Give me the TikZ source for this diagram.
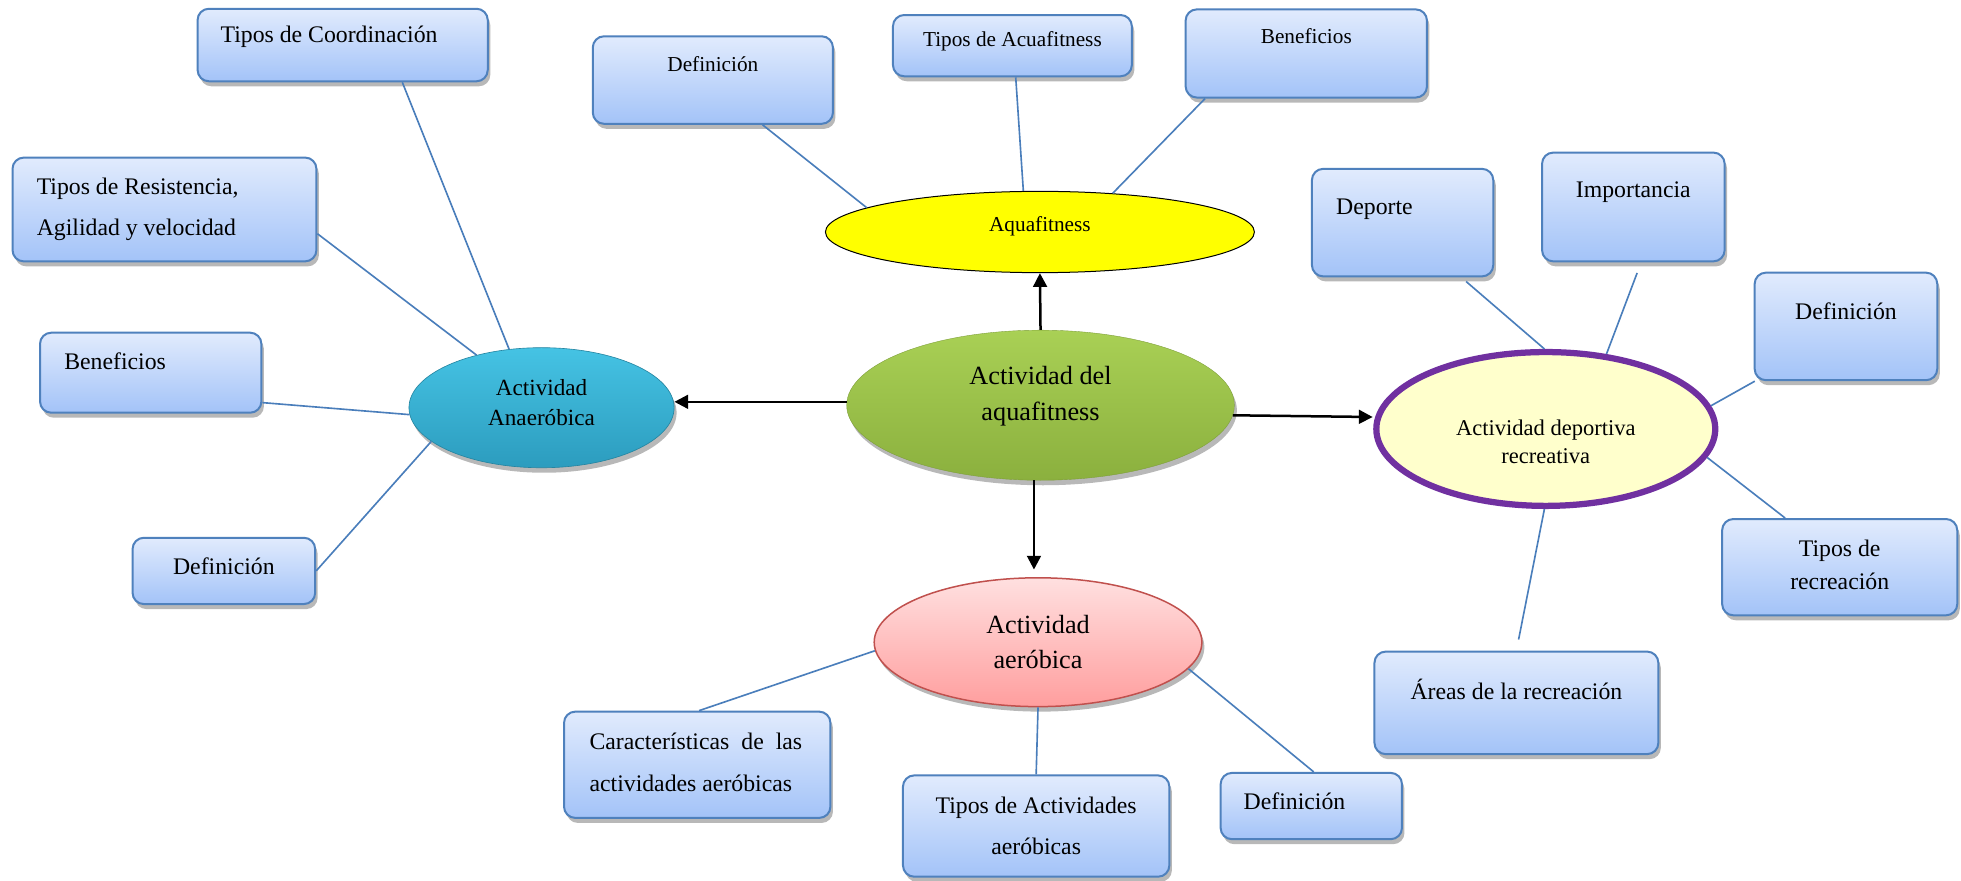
\documentclass[tikz,border=0pt]{standalone}
\usepackage{fontspec}
\setmainfont{Liberation Serif}
\usetikzlibrary{shapes.geometric,shadows,arrows.meta}
\definecolor{bxborder}{HTML}{4F81BD}
\definecolor{bxtop}{HTML}{E1EBFD}
\definecolor{bxbot}{HTML}{A3C3F8}
\definecolor{lnblue}{HTML}{4A7EBB}
\definecolor{anatop}{HTML}{45C3E4}
\definecolor{anabot}{HTML}{2C9CBE}
\definecolor{grtop}{HTML}{A9D055}
\definecolor{grbot}{HTML}{8BB03E}
\definecolor{redtop}{HTML}{FFE0E0}
\definecolor{redbot}{HTML}{FF9E9E}
\definecolor{redborder}{HTML}{C0504D}
\definecolor{purborder}{HTML}{7030A0}
\definecolor{purfill}{HTML}{FFFFCC}
\definecolor{aquafill}{HTML}{FFFF00}
\begin{document}
\begin{tikzpicture}[x=1pt,y=-1pt,
  shd/.style={drop shadow={shadow xshift=2pt,shadow yshift=-4pt,fill=black,opacity=0.28}},
  bx/.style={draw=bxborder,line width=1.6pt,rounded corners=9pt,top color=bxtop,bottom color=bxbot,inner sep=0pt,shd},
  ell/.style={ellipse,inner sep=0pt},
  ln/.style={draw=lnblue,line width=1.3pt},
  arr/.style={draw=black,line width=2pt,-{Triangle[length=11pt,width=11pt]}},
  t19/.style={font=\fontsize{19}{33}\selectfont,inner sep=0pt},
  t19b/.style={font=\fontsize{19}{26}\selectfont,inner sep=0pt},
  t17/.style={font=\fontsize{17}{20}\selectfont,inner sep=0pt},
  t18a/.style={font=\fontsize{18.5}{24}\selectfont,inner sep=0pt},
  t18p/.style={font=\fontsize{18}{22.5}\selectfont,inner sep=0pt},
  t21/.style={font=\fontsize{21}{29}\selectfont,inner sep=0pt},
  t21b/.style={font=\fontsize{21}{28}\selectfont,inner sep=0pt}]
\useasboundingbox (0,0) rectangle (1568,704);
\fill[white] (0,0) rectangle (1568,704);

% ellipses
\node[ell,shd,draw=anabot!85!black,line width=0.5pt,top color=anatop,bottom color=anabot,minimum width=212pt,minimum height=96pt,
  label={[t18a,align=center,yshift=4pt]center:{Actividad\\Anaeróbica}}] (ana) at (433,326) {};
\node[ell,shd,top color=grtop,bottom color=grbot,draw=grbot!90!black,line width=0.3pt,minimum width=310pt,minimum height=120pt,
  label={[t21,align=center,yshift=7.5pt]center:{Actividad del\\aquafitness}}] (cen) at (832,324) {};
\node[ell,fill=aquafill,draw=black,line width=0.8pt,minimum width=343pt,minimum height=65pt,
  label={[t17,yshift=4.5pt]center:Aquafitness}] (aqua) at (831.5,185.5) {};
\node[ell,fill=purfill,draw=purborder,line width=5pt,minimum width=271pt,minimum height=123pt,
  label={[t18p,align=center,yshift=-10.5pt]center:{Actividad deportiva\\recreativa}}] (pur) at (1236,343) {};
\node[ell,shd,top color=redtop,bottom color=redbot,draw=redborder,line width=1.2pt,minimum width=262pt,minimum height=103pt,
  label={[t21b,align=center,yshift=0.5pt]center:{Actividad\\aeróbica}}] (aer) at (830,513.5) {};

% boxes left
\node[bx,minimum width=232pt,minimum height=58pt,
  label={[t19,anchor=west,xshift=19pt,yshift=7pt]west:Tipos de Coordinación}] (tc) at (274,36) {};
\node[bx,minimum width=243pt,minimum height=83pt,
  label={[t19,align=left,anchor=west,xshift=20pt]west:{Tipos de Resistencia,\\Agilidad y velocidad}}] (tr) at (131.5,167.5) {};
\node[bx,minimum width=177pt,minimum height=64pt,
  label={[t19,anchor=west,xshift=20pt,yshift=9pt]west:Beneficios}] (bl) at (120.5,298) {};
\node[bx,minimum width=146pt,minimum height=53pt,
  label={[t19,yshift=3.5pt]center:Definición}] (dl) at (179,456.5) {};

% boxes top
\node[bx,minimum width=192pt,minimum height=70pt,
  label={[t17,yshift=13pt]center:Definición}] (dt) at (570,64) {};
\node[bx,minimum width=191pt,minimum height=49pt,
  label={[t17,yshift=3.5pt]center:Tipos de Acuafitness}] (ta) at (809.5,36.5) {};
\node[bx,minimum width=193pt,minimum height=70.5pt,
  label={[t17,yshift=13.75pt]center:Beneficios}] (bt) at (1044.5,42.75) {};

% boxes right
\node[bx,minimum width=145pt,minimum height=86pt,
  label={[t19,anchor=west,xshift=20pt,yshift=11pt]west:Deporte}] (dep) at (1121.5,178) {};
\node[bx,minimum width=146pt,minimum height=87pt,
  label={[t19,yshift=11.5pt]center:Importancia}] (imp) at (1306,165.5) {};
\node[bx,minimum width=146pt,minimum height=86pt,
  label={[t19,yshift=12pt]center:Definición}] (dr) at (1476,261) {};
\node[bx,minimum width=188pt,minimum height=77pt,
  label={[t19b,align=center,yshift=2pt]center:{Tipos de\\recreación}}] (trc) at (1471,453.5) {};
\node[bx,minimum width=227pt,minimum height=82pt,
  label={[t19,yshift=11pt]center:Áreas de la recreación}] (ar) at (1212.5,562) {};

% boxes bottom
\node[bx,minimum width=213pt,minimum height=85pt,
  label={[t19,align=left,anchor=west,xshift=21pt,yshift=2pt]west:{\makebox[170pt][s]{Características de las}\\actividades aeróbicas}}] (car) at (557.5,611.5) {};
\node[bx,minimum width=213pt,minimum height=81pt,
  label={[t19,align=center]center:{Tipos de Actividades\\aeróbicas}}] (tact) at (828.5,660.5) {};
\node[bx,minimum width=145pt,minimum height=53pt,
  label={[t19,anchor=west,xshift=19pt,yshift=3.5pt]west:Definición}] (db) at (1048.5,644.5) {};

% connectors
\draw[ln] (tc.-32.7) -- (ana.119.9);
\draw[ln] (tr.-9) -- (ana.141.2);
\draw[ln] (bl.-15) -- (ana.183.7);
\draw[ln] (dl.east) -- (ana.197.6);
\draw[ln] (dt.-42.1) -- (aqua.172.4);
\draw[ln] (ta.-84.2) -- (aqua.112.6);
\draw[ln] (bt.-156.8) -- (aqua.28.3);
\draw[ln,shorten <=5pt] (dep.-43) -- (pur.91.7);
\draw[ln,shorten <=9pt] (imp.-82.4) -- (pur.51.3);
\draw[ln] (dr.-149.2) -- (pur.8.65);
\draw[ln] (trc.138.1) -- (pur.-10.8);
\draw[ln,shorten <=9pt] (ar.north) -- (pur.-91.8);
\draw[ln] (car.88) -- (aer.183.5);
\draw[ln] (tact.north) -- (aer.south);
\draw[ln] (db.86.6) -- (aer.-10.2);

% arrows
\draw[arr] (cen.north) -- (aqua.south);
\draw[arr] (cen.179.3) -- (cen.179.3 -| ana.east);
\draw[arr,shorten >=2pt] (cen.-3.3) -- (pur.176);
\draw[arr,shorten >=6pt] (cen.-95.7) -- (cen.-95.7 |- aer.north);
\end{tikzpicture}
\end{document}
